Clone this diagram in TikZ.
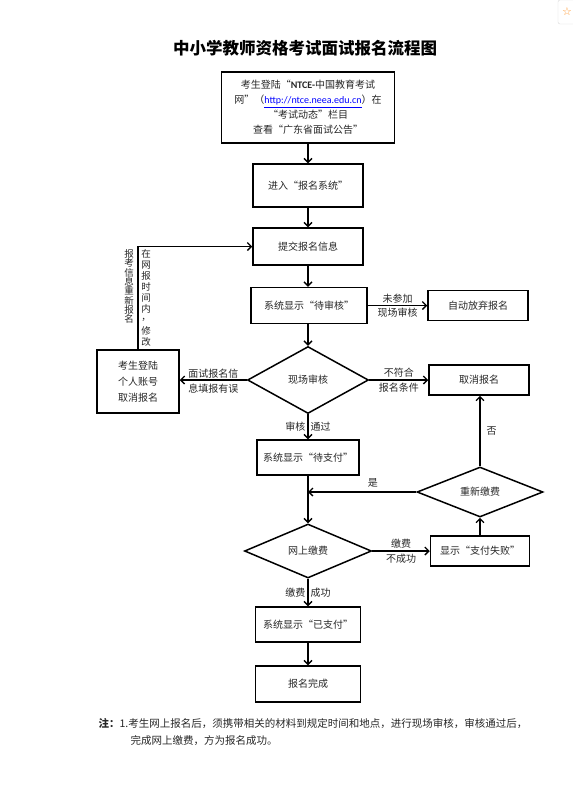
\documentclass[tikz,border=0pt]{standalone}
\usepackage{fontspec}
\setmainfont{Noto Sans CJK SC}
\newfontfamily\latinfont{Carlito}
\newfontfamily\symfont{DejaVu Sans}
\usetikzlibrary{shapes.geometric,arrows.meta}

\begin{document}
\begin{tikzpicture}[x=1pt,y=-1pt,
  every node/.style={font=\fontsize{10}{15}\selectfont,text=black!85},
  rbox/.style={draw=black,line width=1.5pt,inner sep=0pt,align=center},
  dbox/.style={diamond,draw=black,line width=1.5pt,inner sep=0pt},
  flow/.style={line width=1.3pt,-{Straight Barb[length=4pt,width=8pt]}},
  lbl/.style={inner sep=2pt},
  vtxt/.style={font=\fontsize{9.5}{10}\selectfont,inner sep=0pt}]
\useasboundingbox (0,0) rectangle (573,796);

\node[font=\fontsize{16.5}{16.5}\selectfont\bfseries,text=black] (title) at (305,48) {中小学教师资格考试面试报名流程图};
\node[draw=black!15,rounded corners=2pt,text=orange!80,font=\symfont\fontsize{11}{11}\selectfont,minimum width=18pt,minimum height=24pt] (star) at (567,12) {☆};

% main column
\node[rbox,minimum width=173pt,minimum height=71pt] (notice) at (308,107.5) {考生登陆“{\latinfont\bfseries NTCE-}中国教育考试\\网”（\textcolor{blue}{\underline{\latinfont http://ntce.neea.edu.cn}}）在\\“考试动态”栏目\\查看“广东省面试公告”};
\node[rbox,minimum width=110pt,minimum height=43pt] (enter) at (308,185.5) {进入“报名系统”};
\node[rbox,minimum width=110pt,minimum height=37pt] (submit) at (308,246.5) {提交报名信息};
\node[rbox,minimum width=116pt,minimum height=36pt] (pending) at (309,305.5) {系统显示“待审核”};
\node[dbox,minimum width=121pt,minimum height=67pt] (check) at (308,380) {现场审核};
\node[rbox,minimum width=102pt,minimum height=35pt] (paywait) at (308,457.5) {系统显示“待支付”};
\node[dbox,minimum width=127pt,minimum height=54pt] (pay) at (308,551) {网上缴费};
\node[rbox,minimum width=105pt,minimum height=35pt] (paid) at (308,624.5) {系统显示“已支付”};
\node[rbox,minimum width=105pt,minimum height=36pt] (done) at (308,684) {报名完成};

% right column
\node[rbox,minimum width=100pt,minimum height=30pt] (abandon) at (478,305.5) {自动放弃报名};
\node[rbox,minimum width=100pt,minimum height=30pt] (cancel) at (479,380) {取消报名};
\node[dbox,minimum width=126pt,minimum height=50pt] (repay) at (480,492) {重新缴费};
\node[rbox,minimum width=99pt,minimum height=30pt] (fail) at (480,551) {显示“支付失败”};

% left column
\node[rbox,minimum width=82pt,minimum height=63pt,font=\fontsize{10}{16}\selectfont] (login) at (138,381.5) {考生登陆\\个人账号\\取消报名};
\foreach \c [count=\i] in {报,考,信,息,重,新,报,名}{
\node[vtxt] (vl\i) at (129,{254+9.3*(\i-1)}) {\c};
}
\foreach \c [count=\i] in {在,网,报,时,间,内,，,修,改}{
\node[vtxt] (vr\i) at (146,{254+11*(\i-1)}) {\c};
}

\draw[flow] (notice) -- (enter);
\draw[flow] (enter) -- (submit);
\draw[flow] (submit.south) -- (submit.south |- pending.north);
\draw[flow] (pending.south -| check.north) -- (check.north);
\draw[flow] (pending.east) -- (abandon.west) node[midway,above,lbl] (l1) {未参加} node[midway,below,lbl] (l2) {现场审核};
\draw[flow] (check.east) -- (cancel.west) node[midway,above,lbl] (l3) {不符合} node[midway,below,lbl] (l4) {报名条件};
\draw[flow] (check.west) -- (check.west -| login.east) node[midway,above,inner sep=1pt] (l5) {面试报名信} node[midway,below,inner sep=3.5pt] (l6) {息填报有误};
\draw[flow] (login.north) |- (submit.west);
\draw[flow] (check) -- (paywait) node[midway,left,lbl] (l7) {审核} node[midway,right,lbl] (l8) {通过};
\draw[flow] (paywait) -- (pay);
\draw[flow] (pay.east) -- (fail.west) node[midway,above,lbl] (l9) {缴费} node[midway,below,lbl] (l10) {不成功};
\draw[flow] (fail) -- (repay);
\draw[flow] (repay.north) -- (repay.north |- cancel.south) node[midway,right,inner sep=6pt] (l11) {否};
\draw[flow] (repay.west) -- (repay.west -| paywait.south) node[pos=0.4,above,inner sep=4pt] (l12) {是};
\draw[flow] (pay) -- (paid) node[midway,left,lbl] (l13) {缴费} node[midway,right,lbl] (l14) {成功};
\draw[flow] (paid) -- (done);

\node[anchor=west,font=\fontsize{10.5}{12}\selectfont] (note1) at (95,724) {\textbf{注：}1.考生网上报名后，须携带相关的材料到规定时间和地点，进行现场审核，审核通过后，};
\node[anchor=west,font=\fontsize{10.5}{12}\selectfont] (note2) at (127,741) {完成网上缴费，方为报名成功。};
\end{tikzpicture}
\end{document}
